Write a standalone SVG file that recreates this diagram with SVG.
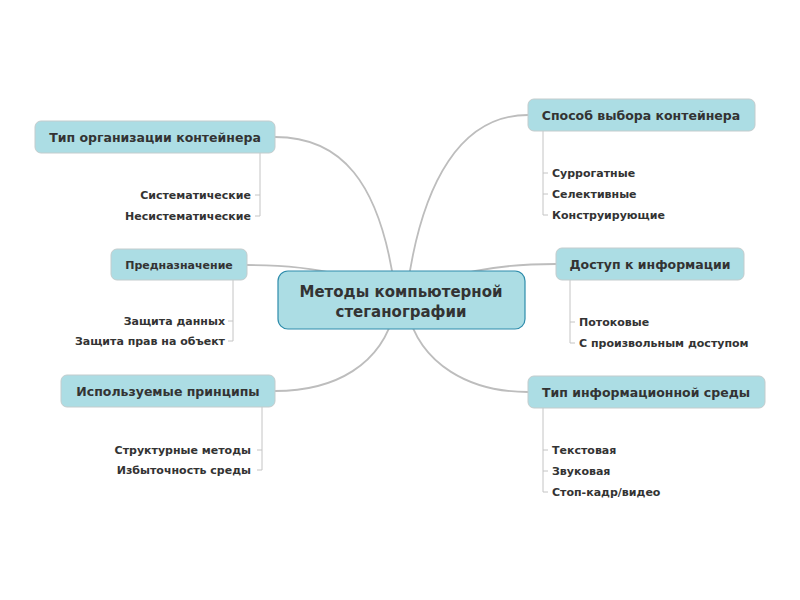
<svg xmlns="http://www.w3.org/2000/svg" width="800" height="600" viewBox="0 0 800 600">
<style>
.node rect{fill:#acdde4;stroke:#c3cccd;stroke-width:1}
.center rect{fill:#acdde4;stroke:#2e8cab;stroke-width:1.2}
text{font-family:"DejaVu Sans","Liberation Sans",sans-serif;font-weight:bold;fill:#333}
.t{font-size:12.5px;text-anchor:middle}
.tc{font-size:15px;text-anchor:middle}
.ts{font-size:11px;text-anchor:middle}
.sl{font-size:11px;text-anchor:end}
.sr{font-size:11px;text-anchor:start}
.conn path{fill:none;stroke:#bdbdbd;stroke-width:1.8}
.sub path{fill:none;stroke:#c4c4c4;stroke-width:1}
</style>
<rect width="800" height="600" fill="#fff"/>
<g id="connectors" class="conn">
<path d="M395 290 C380 180 340 137 275 137"/>
<path d="M407 290 C422 180 462 115 528 115"/>
<path d="M395 300 C360 272 300 265 247 265"/>
<path d="M407 300 C442 272 500 264 556 264"/>
<path d="M395 310 C382 365 335 391 275 391"/>
<path d="M407 310 C420 365 470 392 528 392"/>
</g>
<g id="subconnectors" class="sub">
<path d="M260 153 V216 H255 M260 195 H255"/>
<path d="M233 280 V341 H228 M233 321 H228"/>
<path d="M262 407 V470 H257 M262 450 H257"/>
<path d="M543 131 V215 H548 M543 173 H548 M543 194 H548"/>
<path d="M570 280 V343 H575 M570 322 H575"/>
<path d="M543 408 V492 H548 M543 450 H548 M543 471 H548"/>
</g>
<g id="center" class="center">
<rect x="278" y="271" width="247" height="58" rx="10"/>
<text class="tc" x="401" y="297">Методы компьютерной</text>
<text class="tc" x="401" y="317">стеганографии</text>
</g>
<g id="n1" class="node">
<rect x="35" y="121" width="240" height="32" rx="6"/>
<text class="t" x="155" y="142">Тип организации контейнера</text>
</g>
<g id="n1a"><text class="sl" x="251" y="199">Систематические</text></g>
<g id="n1b"><text class="sl" x="251" y="220">Несистематические</text></g>
<g id="n2" class="node">
<rect x="111" y="249" width="136" height="31" rx="6"/>
<text class="ts" x="179" y="269">Предназначение</text>
</g>
<g id="n2a"><text class="sl" x="225" y="325">Защита данных</text></g>
<g id="n2b"><text class="sl" x="225" y="345">Защита прав на объект</text></g>
<g id="n3" class="node">
<rect x="61" y="375" width="214" height="32" rx="6"/>
<text class="t" x="168" y="396">Используемые принципы</text>
</g>
<g id="n3a"><text class="sl" x="251" y="454">Структурные методы</text></g>
<g id="n3b"><text class="sl" x="251" y="474">Избыточность среды</text></g>
<g id="n4" class="node">
<rect x="528" y="99" width="227" height="32" rx="6"/>
<text class="t" x="641" y="120">Способ выбора контейнера</text>
</g>
<g id="n4a"><text class="sr" x="552" y="177">Суррогатные</text></g>
<g id="n4b"><text class="sr" x="552" y="198">Селективные</text></g>
<g id="n4c"><text class="sr" x="552" y="219">Конструирующие</text></g>
<g id="n5" class="node">
<rect x="556" y="248" width="188" height="32" rx="6"/>
<text class="t" x="650" y="269">Доступ к информации</text>
</g>
<g id="n5a"><text class="sr" x="579" y="326">Потоковые</text></g>
<g id="n5b"><text class="sr" x="579" y="347">С произвольным доступом</text></g>
<g id="n6" class="node">
<rect x="528" y="376" width="237" height="32" rx="6"/>
<text class="t" x="646" y="397">Тип информационной среды</text>
</g>
<g id="n6a"><text class="sr" x="552" y="454">Текстовая</text></g>
<g id="n6b"><text class="sr" x="552" y="475">Звуковая</text></g>
<g id="n6c"><text class="sr" x="552" y="496">Стоп-кадр/видео</text></g>
</svg>
